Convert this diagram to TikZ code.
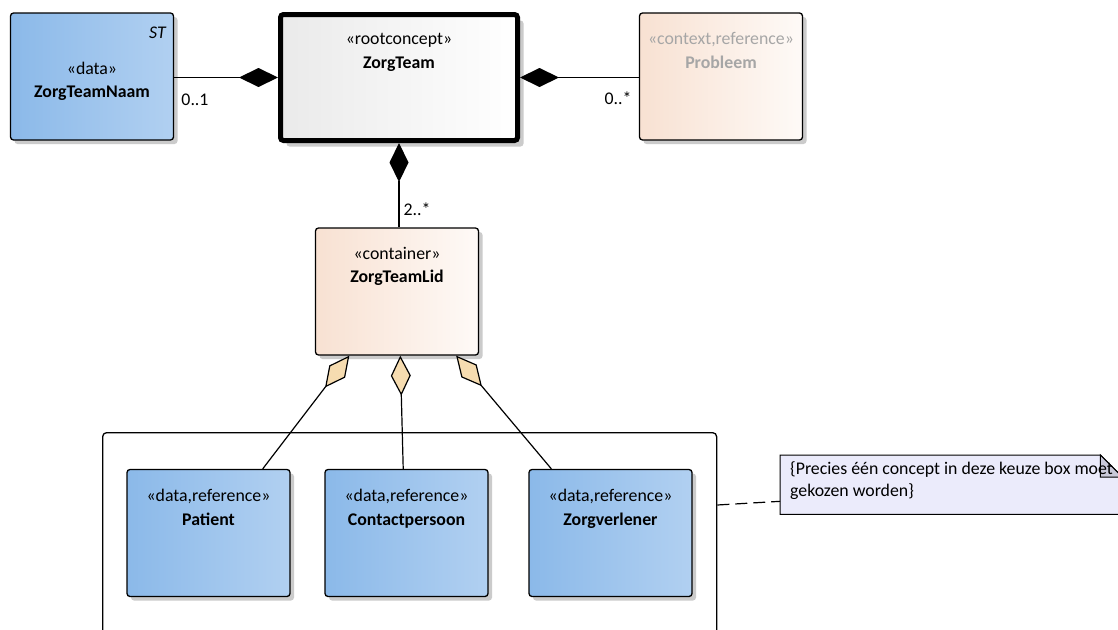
\documentclass[tikz,border=0pt]{standalone}
\usepackage{fontspec}
\setmainfont{Carlito}
\usetikzlibrary{arrows.meta,shadows,calc}
\definecolor{bluel}{HTML}{8BB9E9}
\definecolor{bluer}{HTML}{B1D0F1}
\definecolor{peachl}{HTML}{F8E1D2}
\definecolor{peachr}{HTML}{FEFAF7}
\definecolor{greyl}{HTML}{EAEAEA}
\definecolor{notefill}{HTML}{EBEBFB}
\definecolor{foldfill}{HTML}{C9C9D9}
\definecolor{aggfill}{HTML}{F6DCB0}
\definecolor{dimtext}{HTML}{A6A6A6}
\definecolor{shadowc}{HTML}{CBCBCB}
\tikzset{
  basefont/.style={font=\fontsize{17.8}{21}\selectfont},
  plainbox/.style={draw=black, line width=1.3pt, rounded corners=3pt,
    minimum width=163pt, minimum height=127pt, inner sep=0pt},
  shadowed/.style={drop shadow={shadow xshift=4pt, shadow yshift=-4pt, fill=shadowc, opacity=1}},
  bluebox/.style={plainbox, shadowed, left color=bluel, right color=bluer},
  peachbox/.style={plainbox, shadowed, left color=peachl, right color=peachr},
  container/.style={draw=black, line width=1.3pt, rounded corners=4pt, inner sep=0pt},
  txt/.style={inner sep=0pt, anchor=base, basefont},
  stereotxt/.style={txt},
  nametxt/.style={txt, font=\fontsize{17.8}{21}\selectfont\bfseries},
  assoc/.style={draw=black, line width=1.2pt},
  comp/.style={assoc, arrows={Diamond[length=39pt,width=19pt]-}},
  agg/.style={assoc, arrows={Diamond[length=40pt,width=20pt,fill=aggfill]-}},
  noteline/.style={draw=black, line width=1.2pt, dash pattern=on 12pt off 6pt},
}
\begin{document}
\begin{tikzpicture}[x=1pt,y=-1pt]
\clip (0,0) rectangle (1118,629);
\fill[white] (0,0) rectangle (1118,629);

% choice container
\node[container, minimum width=614pt, minimum height=240pt, anchor=north west] (choice) at (102,432) {};

% boxes
\node[bluebox] (ztn) at (92,76.5) {};
\node[plainbox, line width=5pt, left color=greyl, right color=white,
  minimum width=237pt, minimum height=126pt,
  drop shadow={shadow xshift=6pt, shadow yshift=-6pt, fill=shadowc, opacity=1}] (zt) at (399,77.5) {};
\node[peachbox] (prob) at (721,76.5) {};
\node[peachbox] (ztl) at (397,291.5) {};
\node[bluebox] (pat) at (208.5,533) {};
\node[bluebox] (cp) at (406.5,533) {};
\node[bluebox] (zv) at (610.5,533) {};

% texts
\node[txt, anchor=base east, font=\fontsize{17.8}{21}\selectfont\itshape] (ztn-st) at (166,38) {ST};
\node[stereotxt] (ztn-s) at (92,74) {«data»};
\node[nametxt] (ztn-n) at (92,97) {ZorgTeamNaam};
\node[stereotxt] (zt-s) at (399,44) {«rootconcept»};
\node[nametxt] (zt-n) at (399,68) {ZorgTeam};
\node[stereotxt, text=dimtext] (prob-s) at (721,44) {«context,reference»};
\node[nametxt, text=dimtext] (prob-n) at (721,68) {Probleem};
\node[stereotxt] (ztl-s) at (397,259) {«container»};
\node[nametxt] (ztl-n) at (397,282) {ZorgTeamLid};
\node[stereotxt] (pat-s) at (208.5,501) {«data,reference»};
\node[nametxt] (pat-n) at (208.5,525) {Patient};
\node[stereotxt] (cp-s) at (406.5,501) {«data,reference»};
\node[nametxt] (cp-n) at (406.5,525) {Contactpersoon};
\node[stereotxt] (zv-s) at (610.5,501) {«data,reference»};
\node[nametxt] (zv-n) at (610.5,525) {Zorgverlener};

% compositions
\draw[comp] (zt.west) -- (zt.west -| ztn.east);
\draw[comp] (zt.east) -- (zt.east -| prob.west);
\draw[comp] (zt.south) -- (zt.south |- ztl.north);
\node[txt] (m1) at (195,105) {0..1};
\node[txt] (m2) at (618,104) {0..*};
\node[txt] (m3) at (417,215) {2..*};

% aggregations
\draw[agg] ($(ztl.south west)!0.21!(ztl.south east)$) -- ($(pat.north west)!0.83!(pat.north east)$);
\draw[agg] ($(ztl.south west)!0.52!(ztl.south east)$) -- ($(cp.north west)!0.48!(cp.north east)$);
\draw[agg] ($(ztl.south west)!0.86!(ztl.south east)$) -- ($(zv.north west)!0.14!(zv.north east)$);

% note
\node[inner sep=0pt, minimum width=342pt, minimum height=59pt, anchor=north west] (note) at (780,455) {};
\draw[line width=1pt, fill=notefill] (note.north west) -- ($(note.north east)+(-22,0)$)
  -- ($(note.north east)+(0,22)$) -- (note.south east) -- (note.south west) -- cycle;
\draw[line width=1pt, fill=foldfill] ($(note.north east)+(-22,0)$) -- ($(note.north east)+(-22,22)$)
  -- ($(note.north east)+(0,22)$) -- cycle;
\node[txt, anchor=base west] (nt1) at (790,474) {\{Precies één concept in deze keuze box moet};
\node[txt, anchor=base west] (nt2) at (790,496) {gekozen worden\}};

\coordinate (dy) at (0,505);
\coordinate (dl) at (choice.east |- dy);
\draw[noteline] (dl) -- ($(note.south west)!0.22!(note.north west)$);
\end{tikzpicture}
\end{document}
